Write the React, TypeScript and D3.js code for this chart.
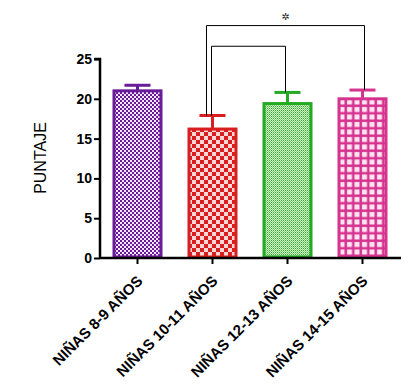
import React, { useRef, useEffect } from 'react';
import * as d3 from 'd3';

const categories = ['NIÑAS 8-9 AÑOS', 'NIÑAS 10-11 AÑOS', 'NIÑAS 12-13 AÑOS', 'NIÑAS 14-15 AÑOS'];
const means = [21.0, 16.2, 19.4, 20.0];
const errors = [0.7, 1.7, 1.4, 1.1];
const yTicks = [0, 5, 10, 15, 20, 25];
// significance brackets
const brackets = [
  { from: 1, to: 3, top: 29.2 },
  { from: 1, to: 2, top: 26.6 },
];

const App = () => {
  const svgRef = useRef<SVGSVGElement>(null);

  useEffect(() => {
    const svg = d3.select(svgRef.current);
    svg.selectAll('*').remove();

    const x = d3.scaleBand().domain(categories).range([100, 400]).paddingInner(1 / 3).paddingOuter(1 / 6);
    const y = d3.scaleLinear().domain([0, 25]).range([258, 59]);
    const defs = svg.append('defs');

    // purple fine checker
    const p1 = defs.append('pattern').attr('id', 'p1').attr('patternUnits', 'userSpaceOnUse')
      .attr('width', 4).attr('height', 4);
    p1.append('rect').attr('width', 4).attr('height', 4).attr('fill', '#f3e6fa');
    p1.append('rect').attr('width', 2).attr('height', 2).attr('fill', '#6a1b9a');
    p1.append('rect').attr('x', 2).attr('y', 2).attr('width', 2).attr('height', 2).attr('fill', '#6a1b9a');

    // red checker
    const p2 = defs.append('pattern').attr('id', 'p2').attr('patternUnits', 'userSpaceOnUse')
      .attr('width', 8).attr('height', 8);
    p2.append('rect').attr('width', 8).attr('height', 8).attr('fill', '#ffd6d6');
    p2.append('rect').attr('width', 4).attr('height', 4).attr('fill', '#d81e1e');
    p2.append('rect').attr('x', 4).attr('y', 4).attr('width', 4).attr('height', 4).attr('fill', '#d81e1e');

    // green fine diagonal hatch
    const p3 = defs.append('pattern').attr('id', 'p3').attr('patternUnits', 'userSpaceOnUse')
      .attr('width', 2).attr('height', 2);
    p3.append('rect').attr('width', 2).attr('height', 2).attr('fill', '#d6f5cf');
    p3.append('rect').attr('x', 1).attr('y', 0).attr('width', 1).attr('height', 1).attr('fill', '#33a833');
    p3.append('rect').attr('x', 0).attr('y', 1).attr('width', 1).attr('height', 1).attr('fill', '#7ccc70');

    // magenta grid
    const p4 = defs.append('pattern').attr('id', 'p4').attr('patternUnits', 'userSpaceOnUse')
      .attr('width', 7.5).attr('height', 7.5);
    p4.append('rect').attr('width', 7.5).attr('height', 7.5).attr('fill', '#d6338f');
    p4.append('rect').attr('x', 2).attr('y', 2).attr('width', 5).attr('height', 5).attr('fill', '#fde6f3');

    const fills = ['url(#p1)', 'url(#p2)', 'url(#p3)', 'url(#p4)'];
    const strokes = ['#6a1b9a', '#d81e1e', '#22aa22', '#d6338f'];

    const g = svg.append('g');
    categories.forEach((c, i) => {
      const x0 = x(c)!;
      const w = x.bandwidth();
      const cx = x0 + w / 2;
      g.append('line').attr('x1', cx).attr('x2', cx).attr('y1', y(means[i])).attr('y2', y(means[i] + errors[i]))
        .attr('stroke', strokes[i]).attr('stroke-width', 3);
      g.append('line').attr('x1', cx - 13).attr('x2', cx + 13)
        .attr('y1', y(means[i] + errors[i])).attr('y2', y(means[i] + errors[i]))
        .attr('stroke', strokes[i]).attr('stroke-width', 3);
      g.append('rect').attr('x', x0 + 1.5).attr('y', y(means[i]))
        .attr('width', w - 3).attr('height', y(0) - y(means[i]) - 1)
        .attr('fill', fills[i]).attr('stroke', strokes[i]).attr('stroke-width', 3);
    });

    const bx = (i: number, off: number) => x(categories[i])! + x.bandwidth() / 2 + off;
    const b0 = brackets[0];
    svg.append('path')
      .attr('d', `M${bx(b0.from, -6)},${y(means[b0.from] + errors[b0.from])} V${y(b0.top)} H${bx(b0.to, 2)} V${y(means[b0.to] + errors[b0.to])}`)
      .attr('fill', 'none').attr('stroke', '#000').attr('stroke-width', 1);
    const b1 = brackets[1];
    svg.append('path')
      .attr('d', `M${bx(b1.from, -1)},${y(means[b1.from] + errors[b1.from])} V${y(b1.top)} H${bx(b1.to, -2)} V${y(means[b1.to] + errors[b1.to])}`)
      .attr('fill', 'none').attr('stroke', '#000').attr('stroke-width', 1);
    svg.append('text').attr('x', (bx(b0.from, -6) + bx(b0.to, 2)) / 2).attr('y', y(b0.top) - 6)
      .attr('text-anchor', 'middle').attr('font-family', 'DejaVu Sans').attr('font-size', 10)
      .attr('font-weight', 'bold').attr('fill', '#222').text('✲');

    const yAxis = svg.append('g').attr('transform', 'translate(100,0)')
      .call(d3.axisLeft(y).tickValues(yTicks).tickSize(6).tickPadding(2));
    yAxis.select('.domain').attr('stroke-width', 2.5).attr('d', `M-6,${y(25)}H0V${y(0) + 1}`);
    yAxis.selectAll('.tick line').attr('stroke-width', 2);
    yAxis.selectAll('.tick text').attr('font-family', 'Arial, Liberation Sans').attr('font-size', 14)
      .attr('font-weight', 'bold').attr('fill', '#000');

    const xAxis = svg.append('g').attr('transform', `translate(0,${y(0)})`)
      .call(d3.axisBottom(x).tickSize(6).tickSizeOuter(0));
    xAxis.select('.domain').attr('stroke-width', 2.5).attr('d', 'M100,0H401');
    xAxis.selectAll('.tick line').attr('stroke-width', 2);
    xAxis.selectAll('.tick text')
      .attr('font-family', 'Arial, Liberation Sans').attr('font-size', 15).attr('font-weight', 'bold')
      .attr('fill', '#000').attr('text-anchor', 'end').attr('dy', 0).attr('y', 0)
      .attr('transform', 'translate(6,24) rotate(-45)');

    svg.append('text').attr('transform', 'translate(46,158) rotate(-90)')
      .attr('text-anchor', 'middle').attr('font-family', 'Arial, Liberation Sans').attr('font-size', 16)
      .attr('fill', '#000').text('PUNTAJE');
  }, []);

  return <svg ref={svgRef} width={412} height={392} style={{ position: 'absolute', left: 0, top: 0, background: '#fff' }} />;
};

export default App;
